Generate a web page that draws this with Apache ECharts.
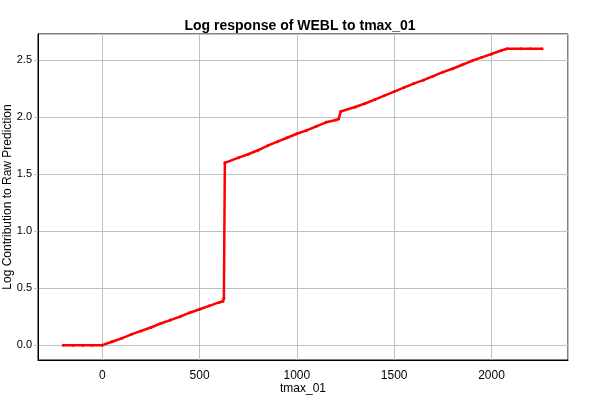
<!DOCTYPE html>
<html>
<head>
<meta charset="utf-8">
<script src="https://cdn.jsdelivr.net/npm/echarts@6/dist/echarts.min.js"></script>
<style>html,body{margin:0;padding:0;background:#fff}#c{width:600px;height:400px}</style>
</head>
<body>
<div id="c"></div>
<script>
const titleText = "Log response of WEBL to tmax_01";
const xName = "tmax_01";
const yName = "Log Contribution to Raw Prediction";
const xValues = [-200, -150, -100, -50, 0, 50, 100, 150, 200, 250, 300, 350, 400, 450, 500, 550, 600, 620, 625, 630,
  700, 750, 800, 850, 900, 950, 1000, 1050, 1100, 1150, 1200, 1215, 1225,
  1300, 1350, 1400, 1450, 1500, 1550, 1600, 1650, 1700, 1750, 1800, 1850, 1900, 1950, 2000, 2050, 2080, 2150, 2200, 2260];
const yValues = [0, 0, 0, 0, 0, 0.03, 0.06, 0.095, 0.125, 0.155, 0.19, 0.22, 0.25, 0.285, 0.315, 0.345, 0.375, 0.385, 0.41, 1.6,
  1.645, 1.675, 1.71, 1.75, 1.785, 1.82, 1.855, 1.885, 1.92, 1.955, 1.975, 1.985, 2.05,
  2.09, 2.12, 2.155, 2.19, 2.225, 2.26, 2.295, 2.325, 2.36, 2.395, 2.425, 2.46, 2.495, 2.525, 2.555, 2.585, 2.6, 2.6, 2.6, 2.6];

const data = xValues.map((x, i) => [x, yValues[i]]);
const font = "'Liberation Sans', Arial, sans-serif";
const chart = echarts.init(document.getElementById('c'), null, {renderer: 'canvas'});
chart.setOption({
  animation: false,
  backgroundColor: '#fff',
  title: {
    text: titleText, left: 'center', top: 14,
    textStyle: {fontFamily: font, fontSize: 14, fontWeight: 'bold', color: '#000'}
  },
  grid: {left: 38, right: 32, top: 34, bottom: 40, show: true, borderColor: '#000', borderWidth: 1,
    containLabel: false, outerBoundsMode: 'none'},
  xAxis: {
    type: 'value', min: -330, max: 2393, splitNumber: 5,
    name: xName, nameLocation: 'middle', nameGap: 23, nameMoveOverlap: false,
    nameTextStyle: {fontFamily: font, fontSize: 12, color: '#000'},
    axisLine: {show: true, onZero: false, lineStyle: {color: '#000'}},
    axisTick: {show: false},
    axisLabel: {fontFamily: font, fontSize: 12, color: '#000', margin: 10, showMinLabel: false, showMaxLabel: false,
      formatter: v => String(v)},
    splitLine: {show: true, lineStyle: {color: '#c0c0c0', width: 1}}
  },
  yAxis: {
    type: 'value', min: -0.13, max: 2.73, splitNumber: 5,
    name: yName, nameLocation: 'middle', nameGap: 24, nameMoveOverlap: false,
    nameTextStyle: {fontFamily: font, fontSize: 12, color: '#000'},
    axisLine: {show: true, onZero: false, lineStyle: {color: '#000'}},
    axisTick: {show: true, length: 4, lineStyle: {color: '#c0c0c0'}},
    axisLabel: {fontFamily: font, fontSize: 11, color: '#000', margin: 6, showMinLabel: false, showMaxLabel: false,
      formatter: v => v.toFixed(1)},
    splitLine: {show: true, lineStyle: {color: '#c0c0c0', width: 1}}
  },
  series: [{
    type: 'line', data: data,
    showSymbol: true, symbol: 'circle', symbolSize: 3,
    itemStyle: {color: '#ff0000'},
    lineStyle: {color: '#ff0000', width: 2.5}
  }]
});
</script>
</body>
</html>
